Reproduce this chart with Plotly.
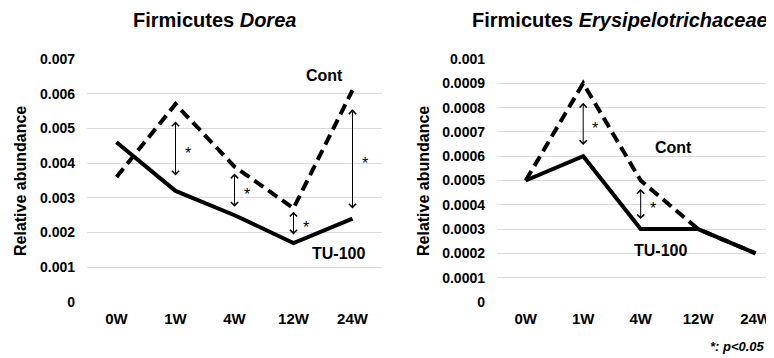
import plotly.graph_objects as go

W, H = 774, 358
OFF = 8  # page body margin offset

weeks = ["0W", "1W", "4W", "12W", "24W"]

# Left panel: Firmicutes Dorea
dorea_cont = [0.0036, 0.0057, 0.0039, 0.0027, 0.0061]
dorea_tu100 = [0.0046, 0.0032, 0.0025, 0.0017, 0.0024]
dorea_ticks = [0, 0.001, 0.002, 0.003, 0.004, 0.005, 0.006, 0.007]
dorea_ticktext = ["0", "0.001", "0.002", "0.003", "0.004", "0.005", "0.006", "0.007"]
dorea_arrow_cats = ["1W", "4W", "12W", "24W"]
dorea_arrow_top = [0.0052, 0.0037, 0.0026, 0.00555]
dorea_arrow_bottom = [0.0036, 0.0027, 0.0019, 0.00265]

# Right panel: Firmicutes Erysipelotrichaceae
erys_cont = [0.0005, 0.0009, 0.0005, 0.0003, 0.0002]
erys_tu100 = [0.0005, 0.0006, 0.0003, 0.0003, 0.0002]
erys_ticks = [0, 0.0001, 0.0002, 0.0003, 0.0004, 0.0005, 0.0006, 0.0007, 0.0008, 0.0009, 0.001]
erys_ticktext = ["0", "0.0001", "0.0002", "0.0003", "0.0004", "0.0005", "0.0006",
                 "0.0007", "0.0008", "0.0009", "0.001"]
erys_arrow_cats = ["1W", "4W"]
erys_arrow_top = [0.00082, 0.000465]
erys_arrow_bottom = [0.00064, 0.000335]

FONT = "Liberation Sans, Arial, sans-serif"


def px(x):
    return (x - OFF) / W


def py(y):
    return 1 - (y - OFF) / H


fig = go.Figure()

solid = dict(color="black", width=4)
dashed = dict(color="black", width=4, dash="11px,6px")

fig.add_trace(go.Scatter(x=weeks, y=dorea_cont, mode="lines", line=dashed,
                         xaxis="x", yaxis="y", showlegend=False))
fig.add_trace(go.Scatter(x=weeks, y=dorea_tu100, mode="lines", line=solid,
                         xaxis="x", yaxis="y", showlegend=False))
fig.add_trace(go.Scatter(x=weeks, y=erys_cont, mode="lines", line=dashed,
                         xaxis="x2", yaxis="y2", showlegend=False))
fig.add_trace(go.Scatter(x=weeks, y=erys_tu100, mode="lines", line=solid,
                         xaxis="x2", yaxis="y2", showlegend=False))

grid = "#d9d9d9"
ydom = [py(302), py(59)]

xcommon = dict(type="category", categoryorder="array", categoryarray=weeks,
               showgrid=False, showline=False, zeroline=False, ticks="",
               automargin=False,
               tickfont=dict(family=FONT, size=15, color="black", weight="bold"),
               ticklabelstandoff=6, fixedrange=True)
ycommon = dict(showgrid=True, gridcolor=grid, gridwidth=1, zeroline=False,
               showline=False, ticks="", automargin=False,
               tickfont=dict(family=FONT, size=14, color="black", weight="bold"),
               ticklabelstandoff=11, fixedrange=True)

fig.update_layout(
    template="none",
    width=W, height=H,
    margin=dict(l=0, r=0, t=0, b=0, pad=0),
    paper_bgcolor="white", plot_bgcolor="white",
    xaxis=dict(domain=[px(87), px(382)], range=[-0.5, 4.5], anchor="y", **xcommon),
    yaxis=dict(domain=ydom, range=[0, 0.007], anchor="x",
               tickvals=dorea_ticks, ticktext=dorea_ticktext, **ycommon),
    xaxis2=dict(domain=[px(497), px(774)], range=[-0.5, 4.32], anchor="y2", **xcommon),
    yaxis2=dict(domain=ydom, range=[0, 0.001], anchor="x2",
                tickvals=erys_ticks, ticktext=erys_ticktext, **ycommon),
)

anns = []


def text_ann(txt, x, y, size, xanchor="center", angle=0):
    anns.append(dict(text=txt, x=px(x), y=py(y), xref="paper", yref="paper",
                     xanchor=xanchor, yanchor="middle", showarrow=False, textangle=angle,
                     font=dict(family=FONT, size=size, color="black")))


# Titles
text_ann("<b>Firmicutes <i>Dorea</i></b>", 214, 20, 20)
text_ann("<b>Firmicutes <i>Erysipelotrichaceae</i></b>", 470, 20, 20, xanchor="left")
# Y-axis titles
text_ann("<b>Relative abundance</b>", 20, 181, 16, angle=-90)
text_ann("<b>Relative abundance</b>", 423, 181, 16, angle=-90)
# Series labels
text_ann("<b>Cont</b>", 324, 75, 16)
text_ann("<b>TU-100</b>", 338, 253, 16)
text_ann("<b>Cont</b>", 673, 148, 16)
text_ann("<b>TU-100</b>", 660, 250, 16)
# Footnote
text_ann("<b><i>*: p<0.05</i></b>", 767, 346, 13, xanchor="right")


def arrows(cats, tops, bottoms, xr, yr):
    for c, t, b in zip(cats, tops, bottoms):
        anns.append(dict(x=c, y=t, ax=c, ay=b, xref=xr, yref=yr, axref=xr, ayref=yr,
                         text="", showarrow=True, arrowhead=4, startarrowhead=4,
                         arrowside="end+start", arrowwidth=1, arrowsize=1.4,
                         startarrowsize=1.4, arrowcolor="black", standoff=0,
                         startstandoff=0))
        anns.append(dict(x=c, y=(t + b) / 2, xref=xr, yref=yr, text="*",
                         showarrow=False, xshift=12, yshift=-4,
                         font=dict(family=FONT, size=16, color="black")))


arrows(dorea_arrow_cats, dorea_arrow_top, dorea_arrow_bottom, "x", "y")
arrows(erys_arrow_cats, erys_arrow_top, erys_arrow_bottom, "x2", "y2")

fig.update_layout(annotations=anns)

fig.write_html("out.html")
